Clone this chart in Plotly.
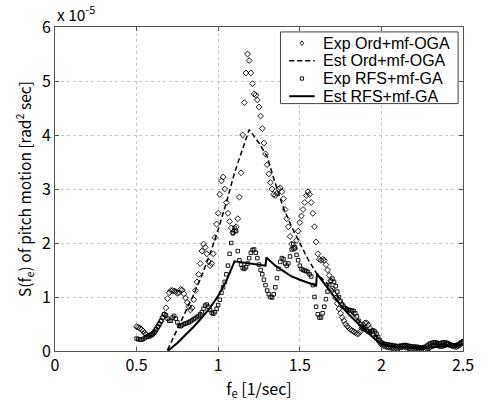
import numpy as np
import plotly.graph_objects as go

# frequency grid of the experimental spectra [1/sec]
freq_exp = np.round(np.arange(0.50, 2.5001, 0.01), 2)

# Exp Ord+mf-OGA (x 1e-5)
exp_ord = [
    0.45, 0.44, 0.42, 0.40, 0.37, 0.33, 0.30, 0.28, 0.28, 0.29,   # 0.50-0.59
    0.31, 0.35, 0.40, 0.45, 0.50, 0.55, 0.62, 0.68, 0.80, 0.97,   # 0.60-0.69
    1.08, 1.12, 1.12, 1.11, 1.10, 1.07, 1.08, 1.14, 1.13, 1.06,   # 0.70-0.79
    0.98, 0.90, 0.82, 0.76, 0.80, 0.95, 1.12, 1.28, 1.42, 1.62,   # 0.80-0.89
    1.85, 1.98, 1.92, 1.80, 1.66, 1.58, 1.62, 1.80, 2.10, 2.35,   # 0.90-0.99
    2.55, 2.90, 3.15, 3.22, 3.00, 2.75, 2.55, 2.40, 2.28, 2.20,   # 1.00-1.09
    2.22, 2.30, 2.45, 2.85, 3.30, 4.00, 4.60, 5.15, 5.50, 5.38,   # 1.10-1.19
    5.15, 4.95, 4.76, 4.74, 4.65, 4.52, 4.35, 4.12, 3.85, 3.65,   # 1.20-1.29
    3.45, 3.28, 3.12, 3.00, 2.90, 2.88, 2.92, 3.00, 3.02, 2.95,   # 1.30-1.39
    2.82, 2.62, 2.45, 2.30, 2.12, 1.98, 1.90, 1.90, 2.05, 2.22,   # 1.40-1.49
    2.38, 2.50, 2.62, 2.75, 2.88, 2.95, 2.90, 2.75, 2.55, 2.30,   # 1.50-1.59
    2.02, 1.80, 1.70, 1.68, 1.70, 1.68, 1.60, 1.50, 1.40, 1.30,   # 1.60-1.69
    1.15, 1.05, 0.98, 0.88, 0.78, 0.70, 0.62, 0.56, 0.50, 0.46,   # 1.70-1.79
    0.43, 0.40, 0.38, 0.36, 0.34, 0.32, 0.32, 0.36, 0.42, 0.48,   # 1.80-1.89
    0.52, 0.52, 0.48, 0.42, 0.36, 0.30, 0.26, 0.24, 0.20, 0.16,   # 1.90-1.99
    0.12,                                                         # 2.00
    0.10, 0.09, 0.08, 0.07, 0.07, 0.06, 0.06, 0.05, 0.05, 0.05,   # 2.01-2.10
    0.06, 0.07, 0.08, 0.08, 0.07, 0.06, 0.05, 0.04, 0.04, 0.04,   # 2.11-2.20
    0.05, 0.06, 0.06, 0.05, 0.04, 0.03, 0.03, 0.04, 0.05, 0.07,   # 2.21-2.30
    0.09, 0.10, 0.11, 0.11, 0.10, 0.09, 0.09, 0.10, 0.11, 0.12,   # 2.31-2.40
    0.12, 0.11, 0.10, 0.09, 0.08, 0.08, 0.09, 0.11, 0.14, 0.17,   # 2.41-2.50
]

# Exp RFS+mf-GA (x 1e-5)
exp_rfs = [
    0.23, 0.22, 0.21, 0.21, 0.22, 0.24, 0.26, 0.27, 0.29, 0.31,   # 0.50-0.59
    0.33, 0.36, 0.40, 0.45, 0.50, 0.56, 0.62, 0.68, 0.66, 0.60,   # 0.60-0.69
    0.56, 0.56, 0.62, 0.65, 0.60, 0.53, 0.47, 0.46, 0.48, 0.50,   # 0.70-0.79
    0.51, 0.52, 0.53, 0.55, 0.57, 0.59, 0.61, 0.63, 0.65, 0.68,   # 0.80-0.89
    0.72, 0.78, 0.84, 0.86, 0.82, 0.76, 0.71, 0.69, 0.72, 0.78,   # 0.90-0.99
    0.85, 0.95, 1.08, 1.18, 1.28, 1.42, 1.58, 1.80, 2.00, 2.18,   # 1.00-1.09
    2.28, 2.22, 1.85, 1.68, 1.60, 1.54, 1.52, 1.55, 1.62, 1.72,   # 1.10-1.19
    1.82, 1.87, 1.88, 1.82, 1.72, 1.60, 1.50, 1.42, 1.32, 1.22,   # 1.20-1.29
    1.12, 1.05, 1.00, 0.99, 1.05, 1.18, 1.35, 1.52, 1.65, 1.72,   # 1.30-1.39
    1.70, 1.62, 1.58, 1.62, 1.75, 1.88, 1.98, 1.92, 1.78, 1.68,   # 1.40-1.49
    1.58, 1.52, 1.50, 1.49, 1.48, 1.46, 1.42, 1.38, 1.22, 1.00,   # 1.50-1.59
    0.82, 0.68, 0.62, 0.62, 0.70, 0.82, 0.96, 1.10, 1.22, 1.30,   # 1.60-1.69
    1.34, 1.28, 1.20, 1.10, 1.00, 0.92, 0.86, 0.82, 0.79, 0.77,   # 1.70-1.79
    0.76, 0.75, 0.75, 0.74, 0.70, 0.64, 0.56, 0.50, 0.45, 0.42,   # 1.80-1.89
    0.40, 0.38, 0.36, 0.36, 0.37, 0.38, 0.36, 0.32, 0.26, 0.20,   # 1.90-1.99
    0.16,                                                         # 2.00
    0.14, 0.13, 0.12, 0.12, 0.11, 0.11, 0.10, 0.10, 0.09, 0.09,   # 2.01-2.10
    0.09, 0.10, 0.10, 0.11, 0.11, 0.10, 0.09, 0.09, 0.08, 0.08,   # 2.11-2.20
    0.08, 0.07, 0.07, 0.06, 0.06, 0.07, 0.08, 0.10, 0.12, 0.14,   # 2.21-2.30
    0.15, 0.16, 0.16, 0.15, 0.14, 0.14, 0.15, 0.16, 0.16, 0.15,   # 2.31-2.40
    0.14, 0.12, 0.11, 0.10, 0.10, 0.11, 0.12, 0.14, 0.16, 0.18,   # 2.41-2.50
]

# Est Ord+mf-OGA (dashed)
est_ord_f = [0.69, 0.75, 0.80, 0.85, 0.90, 0.95, 1.00, 1.05, 1.10, 1.15, 1.19,
             1.25, 1.30, 1.35, 1.40, 1.45, 1.50, 1.55, 1.60, 1.65, 1.70, 1.75,
             1.80, 1.85, 1.90, 1.95, 2.00]
est_ord_v = [0.02, 0.40, 0.72, 1.05, 1.40, 1.80, 2.25, 2.75, 3.30, 3.75, 4.10,
             3.85, 3.60, 3.10, 2.65, 2.30, 2.00, 1.70, 1.45, 1.30, 1.15, 0.95,
             0.75, 0.60, 0.45, 0.30, 0.20]

# Est RFS+mf-GA (solid)
est_rfs_f = [0.69, 0.75, 0.80, 0.85, 0.90, 0.95, 1.00, 1.05, 1.10, 1.15, 1.20,
             1.25, 1.29, 1.295, 1.35, 1.40, 1.45, 1.50, 1.55, 1.60, 1.605, 1.65,
             1.70, 1.75, 1.80, 1.85, 1.90, 1.95, 2.00, 2.10, 2.20, 2.30, 2.40, 2.50]
est_rfs_v = [0.00, 0.15, 0.30, 0.45, 0.62, 0.80, 1.02, 1.30, 1.66, 1.64, 1.62,
             1.60, 1.58, 1.73, 1.58, 1.48, 1.38, 1.32, 1.27, 1.21, 1.43, 1.25,
             1.05, 0.85, 0.68, 0.52, 0.38, 0.25, 0.12, 0.08, 0.06, 0.07, 0.10, 0.12]

series_names = ["Exp Ord+mf-OGA", "Est Ord+mf-OGA", "Exp RFS+mf-GA", "Est RFS+mf-GA"]

x_ticks = [0, 0.5, 1, 1.5, 2, 2.5]
x_tick_text = ["0", "0.5", "1", "1.5", "2", "2.5"]
y_ticks = [0, 1, 2, 3, 4, 5, 6]

FONT = "Noto Sans CJK JP"
LEG_FONT = "Liberation Sans"
W, H = 486, 401
ML, MR, MT, MB = 55, 13, 27, 44
PW, PH = W - ML - MR, H - MT - MB

DIAMOND = dict(symbol="diamond-open", size=4.5, color="black", line=dict(width=0.9, color="black"))
SQUARE = dict(symbol="square-open", size=3.5, color="black", line=dict(width=0.9, color="black"))
DASHED = dict(color="black", width=1.5, dash="5px,3px")
SOLID = dict(color="black", width=2)

fig = go.Figure()
fig.add_trace(go.Scatter(x=freq_exp, y=exp_ord, mode="markers", name=series_names[0], marker=DIAMOND))
fig.add_trace(go.Scatter(x=est_ord_f, y=est_ord_v, mode="lines", name=series_names[1], line=DASHED))
fig.add_trace(go.Scatter(x=freq_exp, y=exp_rfs, mode="markers", name=series_names[2], marker=SQUARE))
fig.add_trace(go.Scatter(x=est_rfs_f, y=est_rfs_v, mode="lines", name=series_names[3], line=SOLID))


def px_x(p):
    return (p - ML) / PW


def px_y(p):
    return (H - MB - p) / PH


# ---- hand-built legend (MATLAB-like compact box) ----
shapes = [dict(type="rect", xref="paper", yref="paper",
               x0=px_x(286), x1=px_x(468), y0=px_y(105), y1=px_y(32),
               line=dict(color="#444444", width=1), fillcolor="white", layer="above")]
annotations = []
row_y = [43.5, 61.5, 79.5, 97.5]
for i, name in enumerate(series_names):
    yy = px_y(row_y[i])
    annotations.append(dict(text=name, xref="paper", yref="paper", x=px_x(329), y=yy,
                            xanchor="left", yanchor="middle", showarrow=False, borderpad=0,
                            font=dict(family=LEG_FONT, size=16, color="black")))
    if i == 1:
        shapes.append(dict(type="line", xref="paper", yref="paper", x0=px_x(295), x1=px_x(321),
                           y0=yy, y1=yy, line=dict(color="black", width=1.5, dash="5px,3px"),
                           layer="above"))
    elif i == 3:
        shapes.append(dict(type="line", xref="paper", yref="paper", x0=px_x(295), x1=px_x(321),
                           y0=yy, y1=yy, line=dict(color="black", width=2), layer="above"))
    else:
        path = "M -1.8,0 L 0,2.3 L 1.8,0 L 0,-2.3 Z" if i == 0 else "M -1.6,-1.6 L 1.6,-1.6 L 1.6,1.6 L -1.6,1.6 Z"
        shapes.append(dict(type="path", xref="paper", yref="paper", xsizemode="pixel", ysizemode="pixel",
                           xanchor=px_x(308), yanchor=yy, path=path,
                           line=dict(color="black", width=0.9), fillcolor="white", layer="above"))

annotations.append(dict(
    text="x 10<sup>-5</sup>", xref="paper", yref="paper", x=0, y=1.0,
    xanchor="left", yanchor="bottom", showarrow=False,
    font=dict(family=FONT, size=15.5, color="black")))

axis_common = dict(
    showline=True, linecolor="#555555", linewidth=1, mirror="allticks",
    ticks="inside", ticklen=4, tickcolor="#555555",
    showgrid=True, gridcolor="#c8c8c8", griddash="dot", gridwidth=1,
    zeroline=False, tickfont=dict(family=FONT, size=16, color="black"),
)

fig.update_layout(
    width=W, height=H,
    margin=dict(l=ML, r=MR, t=MT, b=MB),
    paper_bgcolor="white", plot_bgcolor="white",
    font=dict(family=FONT, color="black"),
    showlegend=False,
    xaxis=dict(range=[0, 2.5], tickvals=x_ticks, ticktext=x_tick_text,
               title=dict(text="f<sub>e</sub> [1/sec]", font=dict(family=FONT, size=16), standoff=2),
               **axis_common),
    yaxis=dict(range=[0, 6], tickvals=y_ticks,
               title=dict(text="S(f<sub>e</sub>) of pitch motion [rad<sup>2</sup> sec]",
                          font=dict(family=FONT, size=15.5), standoff=6),
               **axis_common),
    shapes=shapes,
    annotations=annotations,
)

fig.write_html("out.html")
